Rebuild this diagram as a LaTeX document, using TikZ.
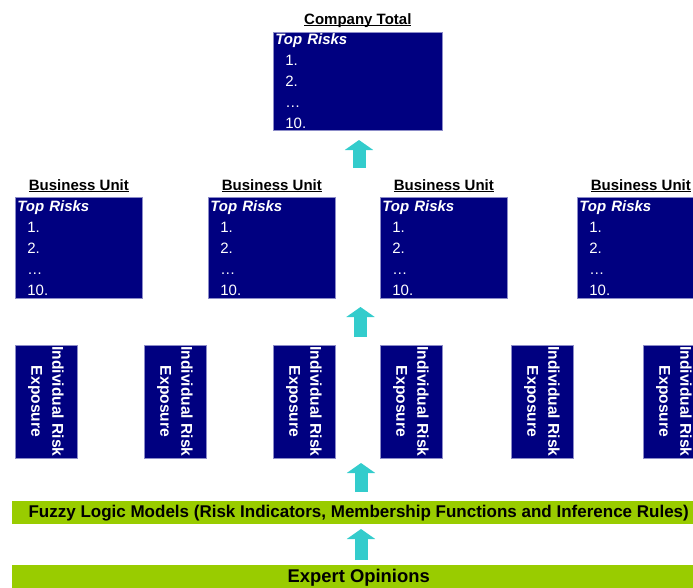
\documentclass[tikz,border=0pt]{standalone}
\usepackage{fontspec}
\setmainfont{Liberation Sans}
\usetikzlibrary{arrows.meta,positioning}
\definecolor{navybox}{HTML}{000080}
\definecolor{boxline}{HTML}{8C8CC8}
\definecolor{limebar}{HTML}{99CC00}
\definecolor{tealarrow}{HTML}{33CCCC}
\def\bw{123}
\def\bh{101}
\def\cw{165}
\def\ch{98}
\newcommand{\titleul}[1]{\setbox0\hbox{#1}\rlap{\rule[-2.2pt]{\wd0}{1.2pt}}\box0}
\newcommand{\toprisks}{\textbf{\textit{Top Risks}}\\\hspace*{10pt}1.\\\hspace*{10pt}2.\\\hspace*{10pt}\ldots\\\hspace*{10pt}10.}

\begin{document}
\begin{tikzpicture}
    [
        x=1pt, y=-1pt,
        riskbox/.style={rectangle, fill=navybox, draw=boxline, line width=0.7pt, text=white,
            align=left, inner xsep=2pt, inner ysep=0pt, anchor=north west,
            font=\fontsize{15}{21}\selectfont},
        expbox/.style={rectangle, fill=navybox, draw=boxline, line width=0.7pt, text=white,
            align=center, inner sep=0pt, rotate=-90, minimum width=113pt, minimum height=62pt,
            font=\bfseries\fontsize{15.6}{21}\selectfont},
        title/.style={inner sep=0pt, anchor=base, font=\bfseries\fontsize{15}{18}\selectfont},
        bar/.style={rectangle, fill=limebar, inner sep=0pt, anchor=north west, minimum width=693pt},
        uparrow/.style={tealarrow, line width=13pt, -{Triangle[width=28pt,length=10pt]}}
    ]
    \clip (0,0) rectangle (693,587);
%    \draw[style=help lines,step=50] (0,0) grid (693,587);

    % company level
    \node[riskbox, text width=\cw pt, minimum height=\ch pt] (company) at (273,32) {\toprisks};
    \node[title] (companytitle) at ([yshift=8pt]company.north) {\titleul{Company Total}};

    % business units
    \foreach \x [count=\n] in {15,208,380,577}
    {
        \node[riskbox, text width=\bw pt, minimum height=\bh pt] (bu\n) at (\x,197) {\toprisks};
        \node[title] (butitle\n) at ([yshift=7pt]bu\n.north) {\titleul{Business Unit}};
    }

    % individual exposures
    \foreach \x [count=\n] in {46,175,304,411,542,674}
    {
        \node[expbox] (ir\n) at (\x,401.5) {Individual Risk\\Exposure};
    }

    \node[bar, minimum height=23pt, font=\bfseries\fontsize{17}{20}\selectfont] (fuzzy) at (12,501)
        {Fuzzy Logic Models (Risk Indicators, Membership Functions and Inference Rules)};
    \node[bar, minimum height=25pt, font=\bfseries\fontsize{18.4}{22}\selectfont] (expert) at (12,565)
        {Expert Opinions};

    \coordinate (a1s) at (359,168);
    \coordinate (a1e) at (359,140);
    \coordinate (a2s) at (360.5,337);
    \coordinate (a2e) at (360.5,307);
    \coordinate (a3s) at (361,492);
    \coordinate (a3e) at (361,463);
    \coordinate (a4s) at (361,560);
    \coordinate (a4e) at (361,529);
    \draw[uparrow] (a1s) -- (a1e);
    \draw[uparrow] (a2s) -- (a2e);
    \draw[uparrow] (a3s) -- (a3e);
    \draw[uparrow] (a4s) -- (a4e);

    \useasboundingbox (0,0) rectangle (693,587);
\end{tikzpicture}
\end{document}
